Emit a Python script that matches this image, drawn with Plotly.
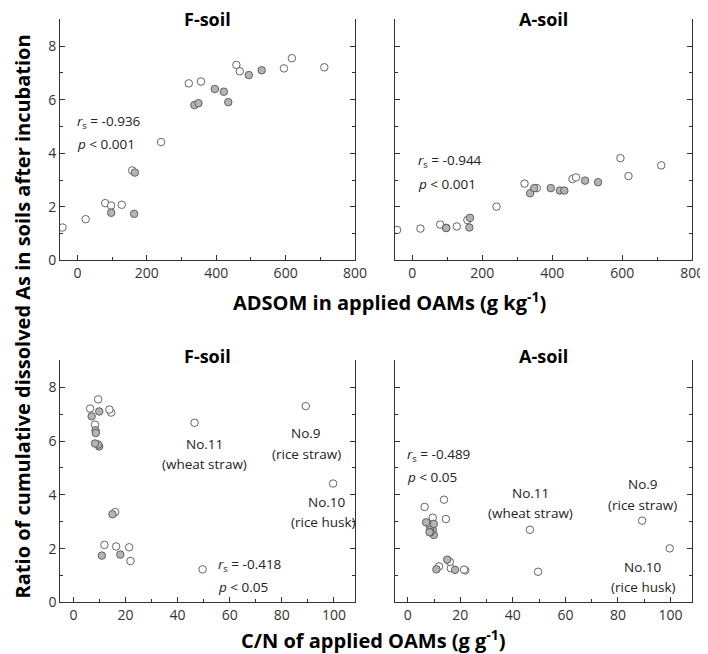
import plotly.graph_objects as go

# ---- data: each sample has ADSOM, C/N, F-soil ratio, A-soil ratio ----
open_adsom = [-43, 23.6, 80, 97, 127.6, 157.8, 241, 321, 356, 458, 468, 595, 618, 711.5]
open_cn = [49.6, 21.9, 11.9, 21.4, 16.4, 16.0, 99.7, 8.3, 46.5, 89.2, 14.5, 13.8, 9.5, 6.4]
open_f = [1.23, 1.54, 2.14, 2.05, 2.08, 3.36, 4.42, 6.61, 6.68, 7.30, 7.06, 7.17, 7.55, 7.21]
open_a = [1.14, 1.19, 1.34, 1.22, 1.27, 1.51, 2.01, 2.87, 2.70, 3.04, 3.10, 3.82, 3.15, 3.55]

gray_adsom = [97.3, 163.5, 165.4, 337, 348.7, 396, 422, 434.7, 494, 531]
gray_cn = [18.0, 10.9, 15.0, 9.9, 9.5, 8.5, 8.6, 8.3, 7.0, 9.9]
gray_f = [1.78, 1.74, 3.28, 5.80, 5.87, 6.40, 6.30, 5.91, 6.92, 7.10]
gray_a = [1.21, 1.23, 1.59, 2.51, 2.70, 2.70, 2.61, 2.61, 2.98, 2.92]

panel_titles = ["F-soil", "A-soil", "F-soil", "A-soil"]
stats_text = [("-0.936", "0.001"), ("-0.944", "0.001"), ("-0.418", "0.05"), ("-0.489", "0.05")]

FONT = "Open Sans"
AX = "#333333"

fig = go.Figure()

W, H = 708, 654
def px(x0, x1):
    return [x0 / W, x1 / W]
def py(top, bottom):
    return [1 - bottom / H, 1 - top / H]

domains = {
    1: (px(53, 353), py(11.5, 256)),
    2: (px(393.3, 696), py(11.5, 256)),
    3: (px(53.3, 352.7), py(357.3, 602.7)),
    4: (px(393.3, 695.3), py(357.3, 602.7)),
}

open_marker = dict(symbol="circle", size=7.5, color="white", line=dict(color="#555555", width=0.9))
gray_marker = dict(symbol="circle", size=7.5, color="#b4b4b4", line=dict(color="#555555", width=0.9))

series = [
    (1, open_adsom, open_f, gray_adsom, gray_f),
    (2, open_adsom, open_a, gray_adsom, gray_a),
    (3, open_cn, open_f, gray_cn, gray_f),
    (4, open_cn, open_a, gray_cn, gray_a),
]
for i, ox, oy, gx, gy in series:
    xa = "x" if i == 1 else f"x{i}"
    ya = "y" if i == 1 else f"y{i}"
    fig.add_trace(go.Scatter(x=ox, y=oy, mode="markers", marker=open_marker,
                             xaxis=xa, yaxis=ya, showlegend=False, hoverinfo="x+y"))
    fig.add_trace(go.Scatter(x=gx, y=gy, mode="markers", marker=gray_marker,
                             xaxis=xa, yaxis=ya, showlegend=False, hoverinfo="x+y"))

tickfont = dict(family=FONT, size=14, color="#333333")
for i in range(1, 5):
    xd, yd = domains[i]
    top = i <= 2
    xaxis = dict(
        domain=xd, anchor="y" if i == 1 else f"y{i}",
        range=[-50, 800] if top else [-5, 108],
        dtick=200 if top else 20, tick0=0,
        ticks="inside", ticklen=5, tickcolor=AX, tickwidth=1,
        minor=dict(dtick=100 if top else 10, tick0=0, ticks="inside", ticklen=3, tickcolor=AX),
        showline=True, linecolor=AX, linewidth=1, mirror=False,
        showgrid=False, zeroline=False, tickfont=tickfont,
    )
    yaxis = dict(
        domain=yd, anchor="x" if i == 1 else f"x{i}",
        range=[0, 9], dtick=2, tick0=0,
        ticks="inside", ticklen=5, tickcolor=AX, tickwidth=1,
        minor=dict(dtick=1, tick0=0, ticks="inside", ticklen=3, tickcolor=AX),
        showline=True, linecolor=AX, linewidth=1, mirror="ticks",
        showgrid=False, zeroline=False, tickfont=tickfont,
        showticklabels=(i in (1, 3)),
    )
    fig.layout["xaxis" if i == 1 else f"xaxis{i}"] = xaxis
    fig.layout["yaxis" if i == 1 else f"yaxis{i}"] = yaxis

annotations = []
# panel titles
title_pos = [(203 / W, 1 - 11 / H), (544.5 / W, 1 - 11 / H), (203 / W, 1 - 353 / H), (544.5 / W, 1 - 353 / H)]
for t, (x, y) in zip(panel_titles, title_pos):
    annotations.append(dict(text=f"<b>{t}</b>", x=x, y=y, xref="paper", yref="paper",
                            showarrow=False, xanchor="center", yanchor="middle",
                            font=dict(family=FONT, size=18, color="black")))

# statistics text
stat_pos = [(1, -8.5, 5.18, 4.33), (2, 11, 3.71, 2.87), (3, 54.8, 1.38, 0.58), (4, -0.9, 5.49, 4.68)]
for (r, p), (i, x, yr, yp) in zip(stats_text, stat_pos):
    xr = "x" if i == 1 else f"x{i}"
    yrf = "y" if i == 1 else f"y{i}"
    annotations.append(dict(text=f"<i>r</i><sub>s</sub> = {r}", x=x, y=yr, xref=xr, yref=yrf,
                            showarrow=False, xanchor="left", yanchor="middle",
                            font=dict(family=FONT, size=13.5, color="#222222")))
    annotations.append(dict(text=f"<i>p</i> &lt; {p}", x=x, y=yp, xref=xr, yref=yrf,
                            showarrow=False, xanchor="left", yanchor="middle",
                            font=dict(family=FONT, size=13.5, color="#222222")))

# sample labels
labels = [
    (3, 50.5, 5.90, "No.11"), (3, 50.5, 5.13, "(wheat straw)"),
    (3, 89.4, 6.30, "No.9"), (3, 89.4, 5.53, "(rice straw)"),
    (3, 97.5, 3.73, "No.10"), (3, 96.2, 2.99, "(rice husk)"),
    (4, 46.8, 4.07, "No.11"), (4, 46.8, 3.33, "(wheat straw)"),
    (4, 89.4, 4.40, "No.9"), (4, 89.4, 3.64, "(rice straw)"),
    (4, 89.7, 1.32, "No.10"), (4, 89.7, 0.56, "(rice husk)"),
]
for i, x, y, t in labels:
    annotations.append(dict(text=t, x=x, y=y, xref=f"x{i}", yref=f"y{i}", showarrow=False,
                            xanchor="center", yanchor="middle",
                            font=dict(family=FONT, size=13.5, color="#222222")))

# axis titles
annotations.append(dict(text="<b>ADSOM in applied OAMs (g kg<sup>-1</sup>)</b>", x=388 / W, y=1 - 298 / H,
                        xref="paper", yref="paper", showarrow=False, xanchor="center", yanchor="middle",
                        font=dict(family=FONT, size=20, color="black")))
annotations.append(dict(text="<b>C/N of applied OAMs (g g<sup>-1</sup>)</b>", x=372 / W, y=1 - 640 / H,
                        xref="paper", yref="paper", showarrow=False, xanchor="center", yanchor="middle",
                        font=dict(family=FONT, size=20, color="black")))
annotations.append(dict(text="<b>Ratio of cumulative dissolved As in soils after incubation</b>",
                        x=15 / W, y=1 - 313 / H, xref="paper", yref="paper", showarrow=False,
                        xanchor="center", yanchor="middle", textangle=-90,
                        font=dict(family=FONT, size=20, color="black")))

fig.update_layout(
    width=W, height=H,
    margin=dict(l=0, r=0, t=0, b=0),
    paper_bgcolor="white", plot_bgcolor="white",
    annotations=annotations,
    showlegend=False,
)

fig.write_html("out.html")
